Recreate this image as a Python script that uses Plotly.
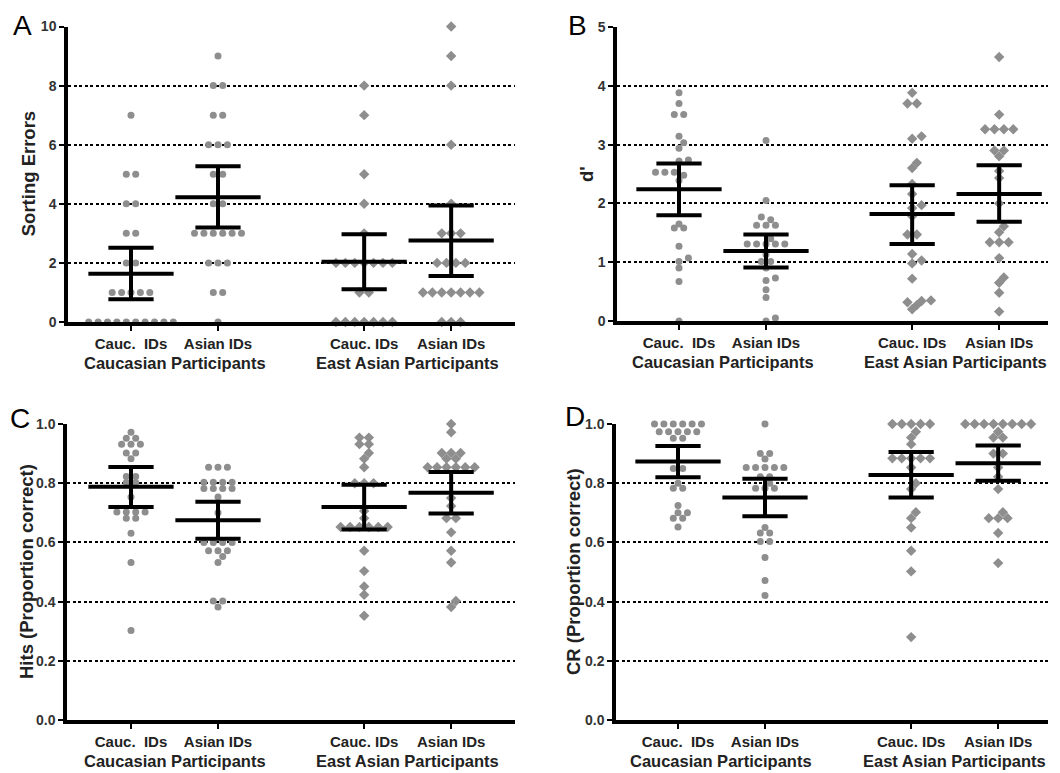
import math
import plotly.graph_objects as go

# ---------------- data ----------------
CATEGORIES = ["Cauc.  IDs", "Asian IDs", "Cauc. IDs", "Asian IDs"]
GROUPS = ["Caucasian Participants", "East Asian Participants"]
PANEL_LETTERS = ["A", "B", "C", "D"]
Y_TITLES = ["Sorting Errors", "d'", "Hits (Proportion correct)", "CR (Proportion correct)"]

# Panel A: sorting errors
A_CC = [7, 5, 5, 4, 4, 3, 3, 2, 2, 1, 1, 1, 1, 1, 0, 0, 0, 0, 0, 0, 0, 0, 0, 0]
A_CA = [9, 8, 8, 7, 7, 6, 6, 6, 5, 5, 4, 4, 3, 3, 3, 3, 3, 3, 2, 2, 2, 1, 1, 0]
A_EC = [8, 7, 5, 4, 3, 2, 2, 2, 2, 2, 2, 2, 1, 1, 0, 0, 0, 0, 0, 0, 0]
A_EA = [10, 9, 8, 6, 4, 3, 3, 3, 2, 2, 2, 2, 1, 1, 1, 1, 1, 1, 1, 0, 0, 0]
A_MEAN = [1.63, 4.22, 2.04, 2.76]
A_HI = [2.51, 5.27, 2.97, 3.94]
A_LO = [0.77, 3.20, 1.11, 1.56]

# Panel B: d'
B_CC = [3.88, 3.70, 3.51, 3.51, 3.14, 3.03, 2.94, 2.74, 2.72, 2.53, 2.53, 2.53,
        2.48, 2.39, 1.65, 1.58, 1.58, 1.27, 1.07, 1.01, 0.90, 0.67, 0.0]
B_CA = [3.07, 2.05, 1.77, 1.72, 1.63, 1.63, 1.63, 1.40, 1.31, 1.31, 1.31, 1.31,
        1.31, 1.13, 1.01, 1.01, 0.90, 0.73, 0.69, 0.53, 0.40, 0.05, 0.0]
B_EC = [3.88, 3.70, 3.70, 3.14, 3.10, 2.69, 2.60, 2.33, 2.16, 1.97, 1.92, 1.78,
        1.47, 1.47, 1.14, 1.03, 0.98, 0.72, 0.35, 0.34, 0.32, 0.27, 0.20]
B_EA = [4.49, 3.51, 3.26, 3.26, 3.26, 3.26, 2.90, 2.90, 2.80, 2.55, 2.43, 2.00,
        1.61, 1.51, 1.34, 1.34, 1.34, 1.07, 0.74, 0.65, 0.48, 0.16]
B_MEAN = [2.24, 1.19, 1.82, 2.16]
B_HI = [2.68, 1.47, 2.31, 2.65]
B_LO = [1.80, 0.91, 1.31, 1.69]

# Panel C: hits
C_CC = [0.972, 0.952, 0.952, 0.932, 0.932, 0.932, 0.902, 0.902, 0.883, 0.823, 0.823,
        0.802, 0.802, 0.753, 0.703, 0.703, 0.703, 0.703, 0.682, 0.682, 0.631, 0.532, 0.302]
C_CA = [0.854, 0.854, 0.854, 0.803, 0.803, 0.803, 0.803, 0.782, 0.782, 0.782, 0.782,
        0.753, 0.700, 0.600, 0.600, 0.600, 0.600, 0.572, 0.572, 0.572, 0.552, 0.532,
        0.402, 0.402, 0.382]
C_EC = [0.954, 0.954, 0.932, 0.932, 0.902, 0.883, 0.854, 0.800, 0.800, 0.800, 0.706,
        0.682, 0.652, 0.652, 0.652, 0.652, 0.652, 0.652, 0.572, 0.503, 0.451, 0.423, 0.352]
C_EA = [1.000, 0.972, 0.902, 0.902, 0.902, 0.883, 0.883, 0.854, 0.854, 0.854, 0.854,
        0.854, 0.854, 0.750, 0.723, 0.682, 0.682, 0.634, 0.572, 0.532, 0.402, 0.382]
C_MEAN = [0.788, 0.675, 0.720, 0.768]
C_HI = [0.855, 0.737, 0.795, 0.838]
C_LO = [0.720, 0.612, 0.644, 0.698]

# Panel D: correct rejections
D_CC = [1.0, 1.0, 1.0, 1.0, 1.0, 1.0, 0.974, 0.974, 0.974, 0.974, 0.974, 0.952, 0.952,
        0.850, 0.850, 0.800, 0.783, 0.783, 0.725, 0.700, 0.700, 0.682, 0.682, 0.652]
D_CA = [1.0, 0.900, 0.900, 0.882, 0.853, 0.853, 0.853, 0.853, 0.853, 0.822, 0.822,
        0.800, 0.783, 0.783, 0.783, 0.650, 0.632, 0.632, 0.603, 0.603, 0.549, 0.471, 0.421]
D_EC = [1.0, 1.0, 1.0, 1.0, 1.0, 0.974, 0.954, 0.932, 0.884, 0.884, 0.884, 0.884, 0.884,
        0.853, 0.800, 0.780, 0.702, 0.682, 0.650, 0.572, 0.502, 0.280]
D_EA = [1.0, 1.0, 1.0, 1.0, 1.0, 1.0, 1.0, 1.0, 0.974, 0.954, 0.954, 0.900, 0.900,
        0.853, 0.822, 0.780, 0.702, 0.682, 0.682, 0.682, 0.632, 0.530]
D_MEAN = [0.873, 0.752, 0.828, 0.867]
D_HI = [0.926, 0.815, 0.905, 0.927]
D_LO = [0.820, 0.688, 0.752, 0.808]

A_TICKS = [0, 2, 4, 6, 8, 10]
B_TICKS = [0, 1, 2, 3, 4, 5]
P_TICKS = [0.0, 0.2, 0.4, 0.6, 0.8, 1.0]

# ---------------- layout geometry (pixels in the 1060x773 window) ----------------
PAGE_MARGIN = 8           # default body margin of the html page
W, H = 1060 - PAGE_MARGIN, 773 - PAGE_MARGIN
CAT_POS = [0.0, 1.0, 2.68, 3.68]
PX_PER_CAT = 87.0
FONT = "Liberation Sans, Arial, Helvetica, sans-serif"
DOT = "#8e8e8e"


def fx(px):
    return (px - PAGE_MARGIN) / W


def fy(py):
    return 1 - (py - PAGE_MARGIN) / H


panels = [
    dict(data=[A_CC, A_CA, A_EC, A_EA], mean=A_MEAN, hi=A_HI, lo=A_LO, ticks=A_TICKS,
         fmt="{:d}", box=(68, 515, 26.5, 322), first_cat_px=131,
         letter=(22, 8), ytitle_x=28),
    dict(data=[B_CC, B_CA, B_EC, B_EA], mean=B_MEAN, hi=B_HI, lo=B_LO, ticks=B_TICKS,
         fmt="{:d}", box=(617, 1048, 27, 321), first_cat_px=679,
         letter=(577, 8), ytitle_x=586),
    dict(data=[C_CC, C_CA, C_EC, C_EA], mean=C_MEAN, hi=C_HI, lo=C_LO, ticks=P_TICKS,
         fmt="{:.1f}", box=(67, 515, 424, 720), first_cat_px=131,
         letter=(20, 401), ytitle_x=26),
    dict(data=[D_CC, D_CA, D_EC, D_EA], mean=D_MEAN, hi=D_HI, lo=D_LO, ticks=P_TICKS,
         fmt="{:.1f}", box=(616, 1048, 424, 720), first_cat_px=678,
         letter=(575, 399), ytitle_x=573),
]


def swarm(values, px_per_unit, d=9.4, thr=6.0):
    """Deterministic beeswarm: returns pixel x-offsets for each value."""
    order = sorted(range(len(values)), key=lambda i: values[i])
    rows = []
    for i in order:
        if rows and abs(values[i] - values[rows[-1][0]]) * px_per_unit < 0.6:
            rows[-1].append(i)
        else:
            rows.append([i])
    placed = []
    offsets = [0.0] * len(values)
    shifts = [0.0]
    for k in range(1, 20):
        shifts += [k * d / 2, -k * d / 2]
    for row in rows:
        n = len(row)
        base = [(j - (n - 1) / 2) * d for j in range(n)]
        ypx = values[row[0]] * px_per_unit
        chosen = 0.0
        for s in shifts:
            ok = True
            for b in base:
                for (px, py) in placed:
                    if math.hypot(b + s - px, ypx - py) < thr:
                        ok = False
                        break
                if not ok:
                    break
            if ok:
                chosen = s
                break
        for j, idx in enumerate(row):
            offsets[idx] = base[j] + chosen
            placed.append((base[j] + chosen, values[idx] * px_per_unit))
    return offsets


fig = go.Figure()
layout = dict(width=W, height=H, margin=dict(l=0, r=0, t=0, b=0, autoexpand=False),
              paper_bgcolor="white", plot_bgcolor="rgba(0,0,0,0)",
              showlegend=False, font=dict(family=FONT, color="#222"))
annotations = []

for pi, p in enumerate(panels):
    n = pi + 1
    xa = "x" if n == 1 else f"x{n}"
    ya = "y" if n == 1 else f"y{n}"
    left, right, top, bottom = p["box"]
    ymax = p["ticks"][-1]
    ppu = (bottom - top) / ymax
    xr = [(left - p["first_cat_px"]) / PX_PER_CAT, (right - p["first_cat_px"]) / PX_PER_CAT]

    for g, vals in enumerate(p["data"]):
        offs = swarm(vals, ppu)
        xs = [CAT_POS[g] + o / PX_PER_CAT for o in offs]
        symbol = "circle" if g < 2 else "diamond"
        fig.add_trace(go.Scatter(
            x=xs, y=vals, mode="markers", xaxis=xa, yaxis=ya, cliponaxis=False,
            marker=dict(color=DOT, size=7 if g < 2 else 8, symbol=symbol,
                        line=dict(width=0)),
            hoverinfo="y"))

    ex, ey = [], []
    for g in range(4):
        c = CAT_POS[g]
        m, lo, hi = p["mean"][g], p["lo"][g], p["hi"][g]
        ex += [c - 0.49, c + 0.49, None, c, c, None,
               c - 0.26, c + 0.26, None, c - 0.26, c + 0.26, None]
        ey += [m, m, None, lo, hi, None, lo, lo, None, hi, hi, None]
    fig.add_trace(go.Scatter(x=ex, y=ey, mode="lines", xaxis=xa, yaxis=ya,
                             cliponaxis=False,
                             line=dict(color="black", width=4), hoverinfo="skip"))

    xkey = "xaxis" if n == 1 else f"xaxis{n}"
    ykey = "yaxis" if n == 1 else f"yaxis{n}"
    layout[xkey] = dict(
        domain=[fx(left), fx(right)], range=xr, anchor=ya, automargin=False,
        showline=True, linecolor="black", linewidth=3.5, mirror=False,
        showgrid=False, zeroline=False,
        ticks="outside", ticklen=5, tickwidth=2, tickcolor="black",
        tickvals=CAT_POS, ticktext=[f"<b>{t}</b>" for t in CATEGORIES],
        tickfont=dict(size=15, color="#222", family=FONT), fixedrange=True)
    layout[ykey] = dict(
        domain=[fy(bottom), fy(top)], range=[0, ymax], anchor=xa, automargin=False,
        showline=True, linecolor="black", linewidth=3.5,
        showgrid=True, gridcolor="black", gridwidth=1.5, griddash="3px,2.5px",
        zeroline=False,
        ticks="outside", ticklen=5, tickwidth=2, tickcolor="black",
        tickvals=p["ticks"],
        ticktext=[f"<b>{p['fmt'].format(t)}</b>" for t in p["ticks"]],
        tickfont=dict(size=14, color="#333", family=FONT), fixedrange=True)

    # group labels under each pair of categories
    for gi, gname in enumerate(GROUPS):
        cx = (CAT_POS[2 * gi] + CAT_POS[2 * gi + 1]) / 2
        annotations.append(dict(
            x=cx, xref=xa, y=fy(bottom + 41), yref="paper",
            text=f"<b>{gname}</b>", showarrow=False, xanchor="center", yanchor="middle",
            font=dict(size=16.5, color="#222", family=FONT)))
    # y-axis title
    annotations.append(dict(
        x=fx(p["ytitle_x"]), xref="paper", y=fy((top + bottom) / 2), yref="paper",
        text=f"<b>{Y_TITLES[pi]}</b>", textangle=-90, showarrow=False,
        xanchor="center", yanchor="middle",
        font=dict(size=18.5, color="#222", family=FONT)))
    # panel letter (anchored at its top edge)
    lx, ly = p["letter"]
    annotations.append(dict(
        x=fx(lx), xref="paper", y=fy(ly), yref="paper", text=PANEL_LETTERS[pi],
        showarrow=False, xanchor="center", yanchor="top",
        font=dict(size=28, color="black", family=FONT)))

layout["annotations"] = annotations
fig.update_layout(**layout)
fig.write_html("out.html")
